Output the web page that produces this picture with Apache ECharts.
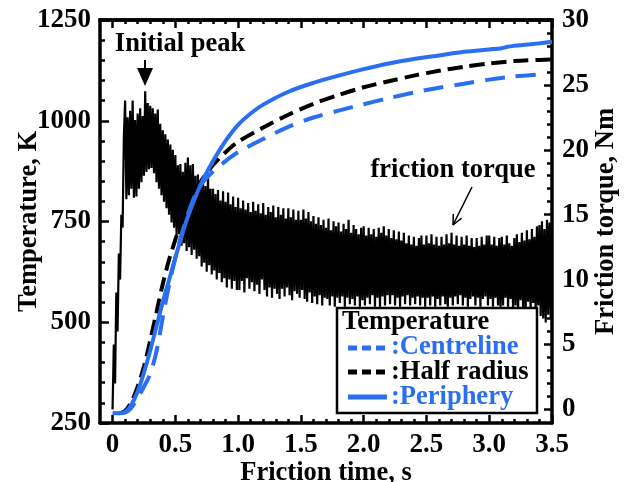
<!DOCTYPE html>
<html>
<head>
<meta charset="utf-8">
<script src="https://cdn.jsdelivr.net/npm/echarts@6/dist/echarts.min.js"></script>
<style>html,body{margin:0;padding:0;background:#fff}#chart{width:628px;height:482px}</style>
</head>
<body>
<div id="chart"></div>
<script>
// tick labels
const timeTicks = [0, 0.5, 1.0, 1.5, 2.0, 2.5, 3.0, 3.5];
const torqueTicks = [0, 5, 10, 15, 20, 25, 30];

// temperature curves (s, K)
const centreTime = [0.05, 0.1, 0.15, 0.2, 0.25, 0.3, 0.35, 0.4, 0.45, 0.5, 0.55, 0.6, 0.65, 0.7, 0.8, 0.9, 1.0, 1.2, 1.4, 1.6, 1.8, 2.0, 2.2, 2.4, 2.6, 2.8, 3.0, 3.2, 3.4];
const centreTemp = [275, 276, 288, 312, 340, 372, 428, 512, 592, 660, 718, 768, 810, 840, 874, 900, 922, 955, 985, 1008, 1025, 1041, 1056, 1070, 1082, 1092, 1102, 1110, 1115];

const halfTime = [0.05, 0.1, 0.15, 0.2, 0.25, 0.3, 0.35, 0.4, 0.45, 0.5, 0.55, 0.6, 0.7, 0.8, 0.9, 1.0, 1.2, 1.4, 1.6, 1.8, 2.0, 2.2, 2.4, 2.6, 2.8, 3.0, 3.2, 3.4, 3.5];
const halfTemp = [274, 280, 302, 340, 390, 455, 525, 595, 655, 705, 750, 790, 848, 890, 922, 948, 983, 1015, 1042, 1064, 1083, 1098, 1112, 1124, 1134, 1142, 1148, 1151, 1152];

const periTime = [0, 0.05, 0.1, 0.15, 0.2, 0.25, 0.3, 0.35, 0.4, 0.45, 0.5, 0.55, 0.6, 0.7, 0.8, 0.9, 1.0, 1.1, 1.2, 1.4, 1.6, 1.8, 2.0, 2.2, 2.4, 2.6, 2.8, 3.0, 3.1, 3.15, 3.2, 3.3, 3.4, 3.5];
const periTemp = [275, 274, 277, 295, 328, 375, 430, 490, 550, 605, 660, 713, 762, 840, 900, 950, 990, 1018, 1040, 1072, 1094, 1112, 1128, 1142, 1153, 1162, 1171, 1177, 1180, 1184, 1186, 1189, 1192, 1196];

// friction torque (Nm), sampled every 0.01 s from 0 s
const torqueStep = 0.01;
const torqueValues = [
  0, 5, 2, 9, 6, 12, 10, 15, 14, 21,
  23.8, 16.2, 22.5, 16.5, 23, 17, 23.8, 16.3, 22.3, 16.4,
  22.8, 17, 23.2, 17.5, 22.6, 18, 24.5, 18.3, 23.6, 18.5,
  23.4, 18.6, 23.2, 18.2, 22.8, 17.5, 23.1, 17, 22, 16.5,
  21.5, 16, 21.2, 15.5, 20.8, 15, 20.4, 14.4, 20, 14,
  19.6, 13.4, 18.8, 13.5, 18.9, 12.6, 18.3, 12.8, 19.0, 12.2,
  19.4, 12.5, 18.8, 11.9, 18.9, 12.3, 18.0, 11.6, 18.1, 11.8,
  17.5, 11.0, 17.9, 11.3, 17.2, 10.6, 18.2, 11.1, 17.0, 10.4,
  17.0, 10.7, 16.6, 10.0, 16.9, 10.5, 16.1, 9.8, 16.8, 10.1,
  16.0, 9.4, 16.7, 10.0, 15.8, 9.3, 16.4, 9.9, 15.6, 9.2,
  16.3, 9.2, 15.5, 9.9, 16.1, 9.0, 15.4, 10.1, 15.9, 9.3,
  15.2, 9.8, 16.0, 9.1, 15.3, 9.6, 15.8, 8.9, 15.1, 10.0,
  15.9, 9.2, 15.0, 8.7, 15.6, 9.4, 15.2, 8.6, 15.7, 9.3,
  14.8, 8.9, 15.6, 8.5, 15.0, 9.3, 15.5, 8.7, 14.7, 9.4,
  15.5, 8.8, 14.8, 8.4, 15.4, 9.1, 14.6, 8.9, 15.3, 8.6,
  14.6, 9.2, 15.4, 8.5, 14.7, 8.3, 15.2, 9.0, 14.5, 8.2,
  14.9, 8.7, 14.3, 8.1, 14.8, 8.8, 14.2, 8.0, 14.6, 8.6,
  14.0, 8.5, 14.7, 8.0, 13.8, 8.7, 14.5, 7.9, 14.1, 8.6,
  14.4, 8.2, 13.7, 8.7, 14.3, 7.9, 13.9, 8.6, 14.6, 8.1,
  13.6, 8.5, 14.2, 8.0, 13.9, 8.7, 13.5, 7.9, 14.0, 8.4,
  14.1, 8.0, 13.4, 8.6, 14.0, 8.1, 13.5, 8.8, 13.9, 7.9,
  13.3, 8.6, 14.0, 7.9, 13.6, 8.7, 14.1, 8.0, 13.4, 8.8,
  13.9, 8.1, 13.2, 8.8, 13.8, 8.0, 13.1, 8.6, 13.7, 7.9,
  13.0, 8.7, 13.6, 8.1, 12.8, 8.8, 13.4, 8.0, 12.7, 8.6,
  13.3, 8.1, 12.6, 8.7, 13.2, 8.0, 13.4, 8.6, 12.7, 7.9,
  13.4, 8.6, 12.8, 8.0, 13.5, 8.7, 12.7, 7.9, 13.3, 8.5,
  12.6, 8.0, 13.3, 8.7, 12.7, 8.1, 13.5, 7.9, 12.8, 8.6,
  13.6, 8.0, 12.7, 8.7, 13.4, 8.1, 12.6, 8.8, 13.3, 8.0,
  12.7, 8.6, 13.4, 7.9, 12.6, 8.5, 13.2, 8.7, 12.5, 8.0,
  13.2, 8.6, 12.6, 7.9, 13.3, 8.5, 12.7, 8.7, 13.4, 8.0,
  13.4, 8.5, 12.7, 7.9, 13.3, 8.6, 12.6, 8.0, 13.2, 7.8,
  13.3, 8.0, 12.7, 8.6, 13.4, 7.9, 12.8, 8.5, 12.6, 7.8,
  13.2, 8.0, 13.5, 7.7, 12.9, 8.4, 13.6, 7.8, 13.0, 7.6,
  13.8, 8.3, 13.1, 7.6, 13.9, 8.2, 13.3, 7.4, 14.1, 8.0,
  14.2, 7.2, 14.5, 7.0, 13.9, 6.7, 14.6, 7.3, 14.4, 7.0,
  14.3
];

const serif = 'Liberation Serif';
const blue = '#2a6ef2';

const pairs = (xs, ys) => xs.map((x, i) => [x, ys[i]]);
const torqueData = torqueValues.map((v, i) => [+(i * torqueStep).toFixed(2), v]);

// minor tick positions
const minorTime = [];
for (let k = 0; k <= 35; k++) if (k % 5) minorTime.push(k / 10);
const minorTorque = [];
for (let k = 0; k <= 30; k++) if (k % 5) minorTorque.push(k);

const chart = echarts.init(document.getElementById('chart'));

const frame = () => ({ show: true, onZero: false, lineStyle: { color: '#000', width: 3.5 } });
const noLine = () => ({ show: false, onZero: false });
const tickStyle = { color: '#000', width: 2.5 };
const labelFont = { color: '#000', fontFamily: serif, fontWeight: 'bold', fontSize: 27 };
const nameFont = { color: '#000', fontFamily: serif, fontWeight: 'bold', fontSize: 26.5 };
const txt = (text, x, y, fill, align) => ({
  type: 'text', x: x, y: y, z: 100,
  style: { text: text, fill: fill || '#000', fontFamily: serif, fontWeight: 'bold', fontSize: 26.5,
           align: align || 'center', verticalAlign: 'middle' }
});
const seg = (x1, y1, x2, y2, color, w, dash) => ({
  type: 'line', z: 100, shape: { x1: x1, y1: y1, x2: x2, y2: y2 },
  style: { stroke: color, lineWidth: w, lineDash: dash || null }
});

// every time axis sits at the bottom of its grid: grids 0/1 are the plot,
// grids 2/3 are a zero-height strip on the top edge, ticks pointing down into the plot
const timeAxis = (grid, major, inside) => ({
  gridIndex: grid, type: 'value', min: -0.1, max: 3.5, position: 'bottom', z: 10,
  axisLine: major ? frame() : noLine(),
  splitLine: { show: false },
  axisTick: { show: true, inside: inside, length: major ? 8 : 4, lineStyle: tickStyle,
              customValues: major ? timeTicks : minorTime },
  axisLabel: { show: false },
  nameMoveOverlap: false
});
const hiddenY = grid => ({ gridIndex: grid, type: 'value', min: 0, max: 1, position: 'left', show: false });
const plotBox = { left: 100, right: 76, top: 20, bottom: 59, outerBoundsMode: 'none' };
const topBox = { left: 100, right: 76, top: 0, bottom: 462, outerBoundsMode: 'none' };

const options = {
  animation: false,
  grid: [Object.assign({}, plotBox), Object.assign({}, plotBox), Object.assign({}, topBox), Object.assign({}, topBox)],
  xAxis: [
    Object.assign(timeAxis(0, true, true), {
      axisLabel: Object.assign({ show: true, customValues: timeTicks, margin: 9,
        formatter: v => (v === 0 ? '0' : v.toFixed(1)) }, labelFont),
      name: 'Friction time, s', nameLocation: 'middle', nameGap: 37, nameTextStyle: nameFont
    }),
    timeAxis(1, false, true),
    timeAxis(2, true, false),
    timeAxis(3, false, false)
  ],
  yAxis: [
    {
      gridIndex: 0, type: 'value', min: 250, max: 1250, interval: 250, position: 'left',
      axisLine: frame(), splitLine: { show: false },
      axisTick: { inside: true, length: 9, lineStyle: tickStyle },
      minorTick: { show: true, splitNumber: 5, length: 5, lineStyle: tickStyle },
      axisLabel: Object.assign({ margin: 9, formatter: v => String(v) }, labelFont),
      name: 'Temperature, K', nameLocation: 'middle', nameRotate: 90, nameGap: 57, nameTextStyle: nameFont,
      nameMoveOverlap: false
    },
    {
      gridIndex: 0, type: 'value', min: -1.05, max: 30, position: 'right',
      axisLine: frame(), splitLine: { show: false },
      axisTick: { inside: true, length: 8, lineStyle: tickStyle, customValues: torqueTicks },
      axisLabel: Object.assign({ customValues: torqueTicks, margin: 10, formatter: v => String(v) }, labelFont),
      name: 'Friction torque, Nm', nameLocation: 'middle', nameRotate: 90, nameGap: 41, nameTextStyle: nameFont,
      nameMoveOverlap: false
    },
    {
      gridIndex: 1, type: 'value', min: -1.05, max: 30, position: 'right',
      axisLine: noLine(), splitLine: { show: false }, axisLabel: { show: false },
      axisTick: { inside: true, length: 5, lineStyle: tickStyle, customValues: minorTorque }
    },
    hiddenY(1),
    hiddenY(2),
    hiddenY(3)
  ],
  series: [
    {
      name: 'Friction torque', type: 'line', xAxisIndex: 0, yAxisIndex: 1, data: torqueData,
      showSymbol: false, lineStyle: { color: '#000', width: 2.2 }, z: 1
    },
    {
      name: 'Half radius', type: 'line', xAxisIndex: 0, yAxisIndex: 0, data: pairs(halfTime, halfTemp),
      showSymbol: false, smooth: 0.3, lineStyle: { color: '#000', width: 4, type: [15, 7] }, z: 3
    },
    {
      name: 'Centreline', type: 'line', xAxisIndex: 0, yAxisIndex: 0, data: pairs(centreTime, centreTemp),
      showSymbol: false, smooth: 0.3, lineStyle: { color: blue, width: 4, type: [20, 11] }, z: 4
    },
    {
      name: 'Periphery', type: 'line', xAxisIndex: 0, yAxisIndex: 0, data: pairs(periTime, periTemp),
      showSymbol: false, smooth: 0.3, lineStyle: { color: blue, width: 4 }, z: 5
    }
  ],
  graphic: [
    // top edge of the plot frame
    seg(98.25, 20, 553.75, 20, '#000', 3.5),
    txt('Initial peak', 180, 44),
    seg(145, 60, 145, 70, '#000', 2),
    { type: 'polygon', z: 100, shape: { points: [[137, 68], [153, 68], [145, 86]] }, style: { fill: '#000' } },
    txt('friction torque', 453, 170),
    seg(472, 187, 453, 225, '#000', 1.5),
    seg(453, 225, 461.6, 218.2, '#000', 1.5),
    seg(453, 225, 453.3, 214, '#000', 1.5),
    { type: 'rect', z: 100, shape: { x: 337, y: 308, width: 200, height: 105 },
      style: { fill: '#fff', stroke: '#000', lineWidth: 2.5 } },
    txt('Temperature', 342, 322, '#000', 'left'),
    seg(348, 348, 387, 348, blue, 5, [9, 5]),
    txt(':Centreline', 391, 347, blue, 'left'),
    seg(348, 372, 387, 372, '#000', 5, [9, 5]),
    txt(':Half radius', 391, 372, '#000', 'left'),
    seg(348, 397, 387, 397, blue, 5),
    txt(':Periphery', 391, 397, blue, 'left')
  ]
};

chart.setOption(options);
window.addEventListener('resize', () => chart.resize());
</script>
</body>
</html>
